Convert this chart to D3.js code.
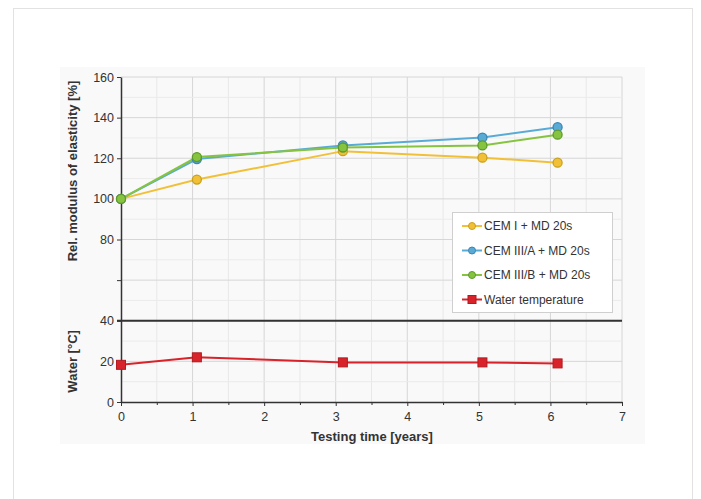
<!DOCTYPE html>
<html><head><meta charset="utf-8">
<script src="https://cdn.jsdelivr.net/npm/d3@7"></script>
<style>
body{margin:0;background:#fff;}
svg{display:block;font-family:"Liberation Sans",Arial,sans-serif;}
</style></head>
<body><svg id="c" width="701" height="499"></svg>
<script>
// ---- data ----
const times = [0, 1.06, 3.1, 5.05, 6.1];
const cemI = [100, 109.5, 123.5, 120.3, 117.8];
const cemIIIA = [100, 119.6, 126.3, 130.2, 135.3];
const cemIIIB = [100, 120.6, 125.3, 126.3, 131.6];
const waterTemp = [18.3, 22, 19.5, 19.5, 19];
const seriesNames = ["CEM I + MD 20s", "CEM III/A + MD 20s", "CEM III/B + MD 20s", "Water temperature"];
const xTicks = [0, 1, 2, 3, 4, 5, 6, 7];
const yTicksUpper = [80, 100, 120, 140, 160];
const yTicksLower = [0, 20, 40];

const svg = d3.select("#c");
// frame and image background
svg.append("rect").attr("x", 13.5).attr("y", 8.5).attr("width", 679).attr("height", 500)
  .attr("fill", "#fff").attr("stroke", "#e2e2e2");
svg.append("rect").attr("x", 60).attr("y", 67).attr("width", 585).attr("height", 377).attr("fill", "#f9f9f9");

const x = d3.scaleLinear().domain([0, 7]).range([121, 622]);
const y = d3.scaleLinear().domain([0, 160]).range([402, 77]);

// gridlines
const g = svg.append("g");
const xMinor = d3.range(0.5, 7, 1);
g.selectAll(".vmin").data(xMinor).join("line")
  .attr("x1", d => x(d)).attr("x2", d => x(d)).attr("y1", y(160)).attr("y2", y(0))
  .attr("stroke", "#e8e8e8").attr("stroke-width", 1);
g.selectAll(".vmaj").data(xTicks.slice(1)).join("line")
  .attr("x1", d => x(d)).attr("x2", d => x(d)).attr("y1", y(160)).attr("y2", y(0))
  .attr("stroke", "#d6d6d6").attr("stroke-width", 1);
const hMinor = d3.range(10, 160, 20);
g.selectAll(".hmin").data(hMinor).join("line")
  .attr("x1", x(0)).attr("x2", x(7)).attr("y1", d => y(d)).attr("y2", d => y(d))
  .attr("stroke", "#ebebeb").attr("stroke-width", 1);
g.selectAll(".hmaj").data(d3.range(20, 161, 20)).join("line")
  .attr("x1", x(0)).attr("x2", x(7)).attr("y1", d => y(d)).attr("y2", d => y(d))
  .attr("stroke", "#d6d6d6").attr("stroke-width", 1);

// separator
svg.append("line").attr("x1", x(0) - 4).attr("x2", x(7)).attr("y1", y(40)).attr("y2", y(40))
  .attr("stroke", "#333").attr("stroke-width", 2);

// axes
const axisStyle = sel => {
  sel.selectAll("path,line").attr("stroke", "#333");
  sel.selectAll("text").attr("fill", "#333").attr("font-size", 12.5);
};
svg.append("g").attr("transform", `translate(${x(0)},0)`)
  .call(d3.axisLeft(y).tickValues(yTicksUpper.concat([60])).tickSize(4).tickSizeOuter(0)
    .tickFormat(d => yTicksUpper.includes(d) ? d : ""))
  .call(axisStyle).call(s => s.select(".domain").attr("stroke-width", 1.5));
svg.append("g").attr("transform", `translate(${x(0)},0)`)
  .call(d3.axisLeft(y).tickValues(yTicksLower).tickSize(4).tickSizeOuter(0))
  .call(axisStyle).call(s => s.select(".domain").remove());
svg.append("g").attr("transform", `translate(0,${y(0)})`)
  .call(d3.axisBottom(x).tickValues(xTicks).tickSize(4).tickSizeOuter(0).tickPadding(6)
    .tickFormat(d3.format("d")))
  .call(axisStyle).call(s => s.select(".domain").attr("stroke-width", 1.5));
svg.append("g").attr("transform", `translate(0,${y(0)})`)
  .call(d3.axisBottom(x).tickValues(xMinor).tickSize(3).tickFormat(""))
  .call(axisStyle).call(s => s.select(".domain").remove());

// titles
svg.append("text").attr("transform", `translate(77,171) rotate(-90)`)
  .attr("text-anchor", "middle").attr("font-size", 13).attr("font-weight", "bold").attr("fill", "#333")
  .text("Rel. modulus of elasticity [%]");
svg.append("text").attr("transform", `translate(77,${(y(40) + y(0)) / 2}) rotate(-90)`)
  .attr("text-anchor", "middle").attr("font-size", 13).attr("font-weight", "bold").attr("fill", "#333")
  .text("Water [°C]");
svg.append("text").attr("x", 372).attr("y", 441).attr("text-anchor", "middle")
  .attr("font-size", 13).attr("font-weight", "bold").attr("fill", "#333")
  .text("Testing time [years]");

// series
const series = [
  {name: seriesNames[0], vals: cemI, color: "#f2c037", stroke: "#c9a01c", shape: "circle"},
  {name: seriesNames[1], vals: cemIIIA, color: "#5aaad6", stroke: "#3a86b2", shape: "circle"},
  {name: seriesNames[2], vals: cemIIIB, color: "#86c440", stroke: "#5e9a2a", shape: "circle"},
  {name: seriesNames[3], vals: waterTemp, color: "#d9232b", stroke: "#b01a20", shape: "square"}
];
const line = d3.line().x(d => x(d[0])).y(d => y(d[1]));
const drawOrder = [0, 1, 2, 3];
drawOrder.forEach(i => {
  const s = series[i];
  const pts = times.map((t, j) => [t, s.vals[j]]);
  svg.append("path").datum(pts).attr("d", line).attr("fill", "none")
    .attr("stroke", s.color).attr("stroke-width", 2);
});
drawOrder.forEach(i => {
  const s = series[i];
  const pts = times.map((t, j) => [t, s.vals[j]]);
  if (s.shape === "circle") {
    svg.append("g").selectAll("circle").data(pts).join("circle")
      .attr("cx", d => x(d[0])).attr("cy", d => y(d[1])).attr("r", 4.5)
      .attr("fill", s.color).attr("stroke", s.stroke).attr("stroke-width", 1.3);
  } else {
    svg.append("g").selectAll("rect").data(pts).join("rect")
      .attr("x", d => x(d[0]) - 4.5).attr("y", d => y(d[1]) - 4.5).attr("width", 9).attr("height", 9)
      .attr("fill", s.color).attr("stroke", s.stroke).attr("stroke-width", 1);
  }
});

// legend
const lg = svg.append("g");
lg.append("rect").attr("x", 452.5).attr("y", 212.5).attr("width", 160).attr("height", 100)
  .attr("fill", "#fff").attr("stroke", "#cfcfcf");
series.forEach((s, i) => {
  const cy = 226 + i * 24.5;
  lg.append("line").attr("x1", 462).attr("x2", 482).attr("y1", cy).attr("y2", cy)
    .attr("stroke", s.color).attr("stroke-width", 2);
  if (s.shape === "circle") {
    lg.append("circle").attr("cx", 472).attr("cy", cy).attr("r", 3.5)
      .attr("fill", s.color).attr("stroke", s.stroke);
  } else {
    lg.append("rect").attr("x", 468).attr("y", cy - 4).attr("width", 8).attr("height", 8)
      .attr("fill", s.color).attr("stroke", s.stroke);
  }
  lg.append("text").attr("x", 484).attr("y", cy + 4).attr("font-size", 12).attr("fill", "#333")
    .text(s.name);
});
</script></body></html>
